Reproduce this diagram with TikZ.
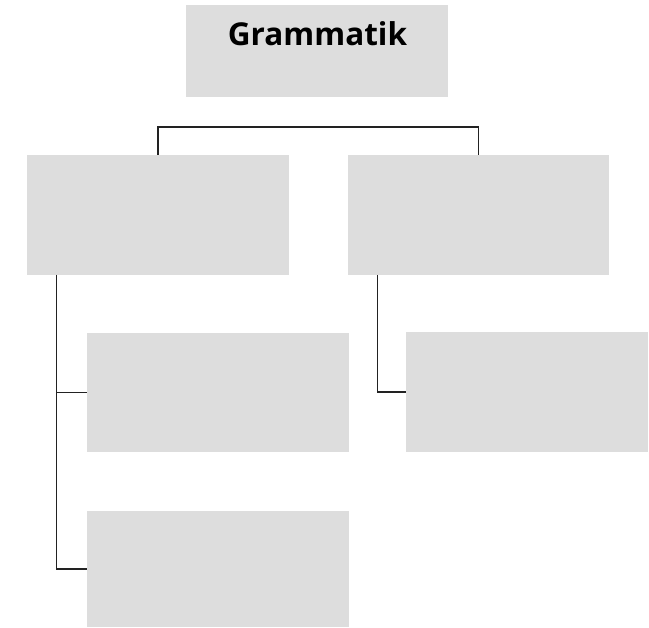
\documentclass[tikz,border=0pt]{standalone}
\usepackage{fontspec}
\setmainfont{Open Sans}
\begin{document}
\begin{tikzpicture}[x=1pt,y=-1pt,
  box/.style={fill=boxgray, draw=none, inner sep=0pt, minimum width=262pt, minimum height=120pt},
  conn/.style={draw=linegray, line width=1.4pt}]
\definecolor{boxgray}{HTML}{DDDDDD}
\definecolor{linegray}{HTML}{222222}
\useasboundingbox (0,0) rectangle (649,628);
\node[box, minimum height=92pt] (top) at (317,51) {};
\node[anchor=base, font=\bfseries\fontsize{31.5}{36}\selectfont, text=black, inner sep=0pt] (title) at (317.5,46) {Grammatik};
\node[box] (L1) at (158,215) {};
\node[box, minimum width=261pt] (R1) at (478.5,215) {};
\node[box, minimum height=119pt] (L2) at (218,392.5) {};
\node[box, minimum height=116pt] (L3) at (218,569) {};
\node[box, minimum width=242pt] (R2) at (527,392) {};
\coordinate (bar) at (317,127);
\coordinate (lv) at (56.5,275);
\coordinate (rv) at (377.3,275);
\draw[conn] (L1.north) |- (bar) -| (R1.north);
\draw[conn] (lv) |- (L2.west);
\draw[conn] (lv) |- (L3.west);
\draw[conn] (rv) |- (R2.west);
\end{tikzpicture}
\end{document}
